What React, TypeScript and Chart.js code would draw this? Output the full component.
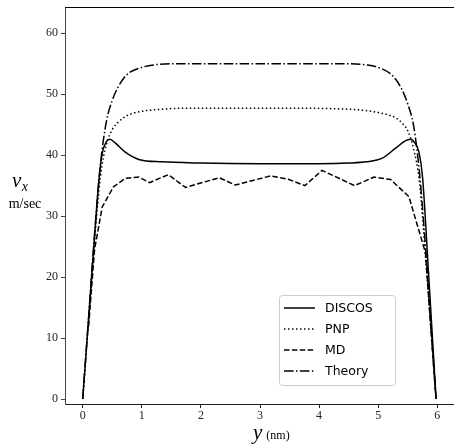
import React, { useEffect, useRef } from 'react';
import { Chart, registerables } from 'chart.js';

Chart.register(...registerables);

const seriesNames = ['DISCOS', 'PNP', 'MD', 'Theory'];

const xTickValues = [0, 1, 2, 3, 4, 5, 6];
const yTickValues = [0, 10, 20, 30, 40, 50, 60];

const discosX = [0, 0.1, 0.2, 0.27, 0.33, 0.4, 0.46, 0.55, 0.72, 0.95, 1.34, 2.0, 3.0, 4.0, 4.5, 4.8, 5.07, 5.29, 5.45, 5.55, 5.62, 5.69, 5.75, 5.85, 5.98];
const discosY = [0, 13.3, 26.6, 35.5, 40.3, 42.2, 42.6, 42.0, 40.5, 39.3, 38.9, 38.7, 38.6, 38.6, 38.7, 38.9, 39.5, 41.1, 42.3, 42.6, 42.0, 40.5, 36.5, 21, 0];

const pnpX = [0, 0.1, 0.2, 0.3, 0.4, 0.5, 0.6, 0.7, 0.8, 1.0, 1.3, 1.7, 2.5, 3.5, 4.3, 4.7, 5.0, 5.2, 5.3, 5.4, 5.5, 5.6, 5.7, 5.8, 5.9, 5.98];
const pnpY = [0, 13, 26, 36.5, 41.8, 44.2, 45.4, 46.2, 46.7, 47.2, 47.5, 47.7, 47.7, 47.7, 47.6, 47.4, 47.0, 46.5, 46.1, 45.3, 44.0, 41.0, 35.5, 23.5, 10.5, 0];

const mdX = [0.1, 0.2, 0.33, 0.52, 0.72, 0.95, 1.13, 1.45, 1.74, 2.31, 2.58, 3.18, 3.49, 3.76, 4.05, 4.6, 4.93, 5.21, 5.52, 5.8, 5.97];
const mdY = [12, 24.5, 31.5, 34.8, 36.2, 36.4, 35.5, 36.8, 34.7, 36.3, 35.1, 36.6, 36.0, 35.0, 37.5, 35.0, 36.4, 36.0, 33.2, 24.0, 1];

const theoryX = [0, 0.1, 0.2, 0.3, 0.4, 0.5, 0.6, 0.7, 0.8, 1.0, 1.2, 1.5, 2.0, 3.0, 4.0, 4.5, 4.8, 5.0, 5.2, 5.3, 5.4, 5.5, 5.6, 5.7, 5.8, 5.9, 5.98];
const theoryY = [0, 13.5, 27, 38.5, 45.5, 49, 51.2, 52.7, 53.6, 54.4, 54.8, 55, 55, 55, 55, 55, 54.8, 54.4, 53.4, 52.4, 50.8, 48.4, 44.8, 37, 25, 11, 0];

const dashes: number[][] = [[], [1.5, 2.5], [5.5, 2.4], [9.6, 2.4, 1.5, 2.4]];

const SERIF = '"Liberation Serif", "DejaVu Serif", serif';

export default function App() {
  const ref = useRef<HTMLCanvasElement>(null);

  useEffect(() => {
    const canvas = ref.current!;
    const pairs = (xs: number[], ys: number[]) => xs.map((x, i) => ({ x, y: ys[i] }));
    const datasets = [
      { xs: discosX, ys: discosY, smooth: true },
      { xs: pnpX, ys: pnpY, smooth: true },
      { xs: mdX, ys: mdY, smooth: false },
      { xs: theoryX, ys: theoryY, smooth: true },
    ].map((s, i) => ({
      label: seriesNames[i],
      data: pairs(s.xs, s.ys),
      borderColor: '#000',
      backgroundColor: '#000',
      borderWidth: 1.5,
      borderDash: dashes[i],
      pointRadius: 0,
      fill: false,
      tension: 0,
      cubicInterpolationMode: s.smooth ? 'monotone' : 'default',
    }));

    const extras = {
      id: 'extras',
      afterDraw(chart: any) {
        const { ctx, chartArea } = chart;
        ctx.save();
        // top spine
        ctx.strokeStyle = '#000';
        ctx.lineWidth = 1;
        ctx.setLineDash([]);
        ctx.beginPath();
        ctx.moveTo(chartArea.left, chartArea.top + 0.5);
        ctx.lineTo(chartArea.right, chartArea.top + 0.5);
        ctx.stroke();

        // x title
        ctx.fillStyle = '#000';
        ctx.textBaseline = 'alphabetic';
        ctx.font = `italic 21px ${SERIF}`;
        const yW = ctx.measureText('y').width;
        const cx = (chartArea.left + chartArea.right) / 2;
        const sx = cx - 7;
        ctx.textAlign = 'left';
        ctx.fillText('y', sx, 439);
        ctx.font = `12px ${SERIF}`;
        ctx.fillText('(nm)', sx + yW + 4, 439);

        // y title
        ctx.font = `italic 21px ${SERIF}`;
        ctx.fillText('v', 12, 187);
        const vW = ctx.measureText('v').width;
        ctx.font = `italic 14px ${SERIF}`;
        ctx.fillText('x', 12 + vW + 0.5, 191);
        ctx.font = `14px ${SERIF}`;
        ctx.textAlign = 'center';
        ctx.fillText('m/sec', 25, 208);

        // legend
        const lx = 279.5, ly = 295.5, lw = 116, lh = 90, r = 3;
        ctx.beginPath();
        ctx.moveTo(lx + r, ly);
        ctx.lineTo(lx + lw - r, ly);
        ctx.arcTo(lx + lw, ly, lx + lw, ly + r, r);
        ctx.lineTo(lx + lw, ly + lh - r);
        ctx.arcTo(lx + lw, ly + lh, lx + lw - r, ly + lh, r);
        ctx.lineTo(lx + r, ly + lh);
        ctx.arcTo(lx, ly + lh, lx, ly + lh - r, r);
        ctx.lineTo(lx, ly + r);
        ctx.arcTo(lx, ly, lx + r, ly, r);
        ctx.closePath();
        ctx.fillStyle = 'rgba(255,255,255,0.8)';
        ctx.fill();
        ctx.strokeStyle = '#cccccc';
        ctx.lineWidth = 1;
        ctx.stroke();

        ctx.font = '12.5px "DejaVu Sans", sans-serif';
        ctx.textAlign = 'left';
        ctx.textBaseline = 'middle';
        chart.data.datasets.forEach((ds: any, i: number) => {
          const yy = 308 + i * 21;
          ctx.strokeStyle = '#000';
          ctx.lineWidth = 1.5;
          ctx.setLineDash(ds.borderDash || []);
          ctx.beginPath();
          ctx.moveTo(284, yy);
          ctx.lineTo(315, yy);
          ctx.stroke();
          ctx.setLineDash([]);
          ctx.fillStyle = '#000';
          ctx.fillText(ds.label, 325, yy + 0.5);
        });
        ctx.restore();
      },
    };

    const chart = new Chart(canvas, {
      type: 'line',
      data: { datasets: datasets as any },
      options: {
        animation: false,
        responsive: false,
        devicePixelRatio: 1,
        layout: { padding: { left: 0, top: 7, right: 15, bottom: 0 } },
        plugins: { legend: { display: false }, tooltip: { enabled: false } },
        scales: {
          x: {
            type: 'linear',
            min: -0.3,
            max: 6.3,
            afterFit: (s: any) => { s.height = 42; s.paddingLeft = 0; s.paddingRight = 0; },
            border: { display: true, color: '#222', width: 1 },
            grid: { drawOnChartArea: false, drawTicks: true, tickLength: 4, color: '#222' },
            ticks: {
              stepSize: 1,
              includeBounds: false,
              padding: 1,
              color: '#222',
              font: { family: SERIF, size: 12 },
              callback: (v: any) => (xTickValues.includes(Number(v)) ? String(v) : ''),
            },
          },
          y: {
            type: 'linear',
            min: -0.82,
            max: 64.3,
            afterFit: (s: any) => { s.width = 65; s.paddingTop = 0; s.paddingBottom = 0; },
            border: { display: true, color: '#444', width: 1 },
            grid: { drawOnChartArea: false, drawTicks: true, tickLength: 4, color: '#444' },
            ticks: {
              stepSize: 10,
              includeBounds: false,
              padding: 3,
              color: '#222',
              font: { family: SERIF, size: 12 },
              callback: (v: any) => (yTickValues.includes(Number(v)) ? String(v) : ''),
            },
          },
        },
      } as any,
      plugins: [extras],
    });
    return () => chart.destroy();
  }, []);

  return (
    <div style={{ position: 'absolute', left: 0, top: 0, width: 454, height: 446, overflow: 'hidden', background: '#fff' }}>
      <canvas ref={ref} width={470} height={446} style={{ display: 'block', width: 470, height: 446 }} />
    </div>
  );
}
